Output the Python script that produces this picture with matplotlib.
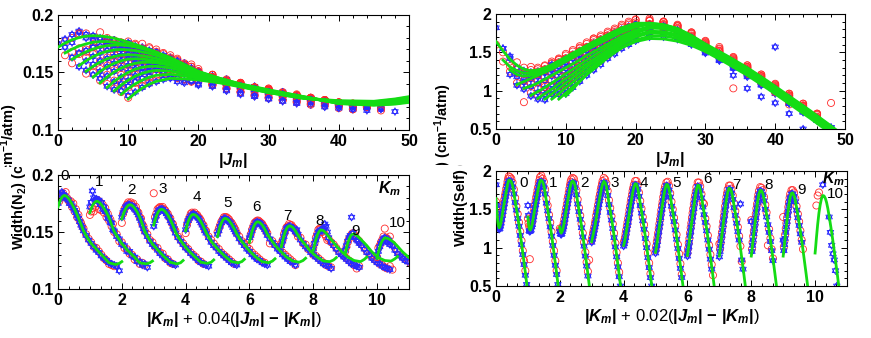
import numpy as np
import matplotlib.pyplot as plt
from matplotlib.path import Path
from matplotlib.ticker import MultipleLocator, FuncFormatter
from matplotlib.transforms import Bbox, TransformedBbox

plt.rcParams['font.family'] = 'Liberation Sans'
plt.rcParams['font.weight'] = 'bold'
plt.rcParams['mathtext.fontset'] = 'custom'
plt.rcParams['mathtext.rm'] = 'Liberation Sans:bold'
plt.rcParams['mathtext.it'] = 'Liberation Sans:italic:bold'
plt.rcParams['mathtext.bf'] = 'Liberation Sans:bold'

nan = float('nan')
k_values = [0, 1, 2, 3, 4, 5, 6, 7, 8, 9, 10]

# J grids (each K uses the part with J >= K)
n2_fit_j = [0, 1, 2, 3, 4, 5, 6, 7, 8, 9, 10, 11, 12, 13, 14, 16, 18, 20, 23, 26, 30, 35, 40, 45, 48, 50]
self_fit_j = [0, 1, 2, 3, 4, 5, 6, 7, 8, 9, 10, 11, 12, 13, 14, 16, 18, 20, 22, 24, 26, 28, 30, 33, 36, 39, 42, 45, 48, 50]
scatter_j = [0, 1, 2, 3, 4, 5, 6, 7, 8, 9, 10, 11, 12, 13, 14, 15, 16, 17, 18, 19, 20,
             22, 24, 26, 28, 30, 32, 34, 36, 38, 40, 42, 44, 46, 48]

# N2 broadening: fitted curves (one row per K)
n2_fit = [
    [.172, .1756, .1784, .1804, .1816, .182, .1817, .181, .1798, .1782, .1764, .1744, .1723, .170, .1677,
     .1625, .1568, .151, .145, .140, .135, .129, .123, .1215, .1225, .124],
    [.167, .1703, .173, .1749, .1763, .1769, .1769, .1763, .1753, .174, .1725, .1708, .169, .167,
     .1625, .1565, .1505, .145, .140, .1345, .129, .123, .122, .123, .1245],
    [.1615, .165, .168, .1704, .1722, .1733, .1739, .1739, .1733, .1723, .171, .1694, .1676,
     .163, .157, .1505, .1445, .1395, .1345, .1285, .1235, .122, .123, .125],
    [.156, .1603, .1638, .1665, .1684, .1696, .170, .1697, .169, .1679, .1665, .1649,
     .161, .156, .150, .144, .1395, .134, .1285, .1235, .1225, .1235, .1255],
    [.151, .1554, .1591, .1619, .1639, .1651, .1655, .1652, .1645, .1635, .1622,
     .159, .1545, .1495, .1435, .139, .134, .1285, .124, .123, .124, .126],
    [.146, .1509, .1549, .158, .1602, .1616, .162, .1617, .161, .160,
     .157, .153, .1485, .143, .139, .1335, .128, .124, .123, .1245, .1265],
    [.141, .1461, .1504, .1538, .1563, .158, .1589, .1589, .1584,
     .1562, .1525, .148, .143, .1385, .1335, .128, .1245, .1235, .125, .127],
    [.137, .1423, .1466, .1501, .1528, .1545, .1554, .1554,
     .154, .151, .147, .1425, .1385, .133, .128, .1245, .124, .1255, .1275],
    [.134, .1391, .1434, .1468, .1493, .151, .1519,
     .1512, .149, .146, .142, .138, .133, .128, .125, .124, .126, .128],
    [.131, .136, .1401, .1434, .1459, .1476,
     .1484, .147, .145, .1415, .138, .1325, .1275, .125, .1245, .1265, .1285],
    [.127, .1321, .1364, .1398, .1423,
     .1449, .1445, .1435, .141, .1375, .1325, .1275, .1255, .125, .127, .129],
]

# N2 broadening: measured widths, red circles and blue stars (one row per K)
n2_red = [
    [nan, .177, .180, .183, .184, .181, .185, .180, .178, .176, .177, .172, .175, .168, .170, .163, .165, .160, .158, .155, .153,
     .148, .144, .141, .137, .136, .133, .130, .127, .125, .122, .121, .120],
    [.165, .168, .171, .168, .172, .175, .178, .170, .176, .169, .174, .167, .171, .163, .166, .160, .161, .155, .157, .150,
     .148, .142, .141, .136, .135, .131, .130, .126, .126, .122, .123, .121],
    [.158, .166, .170, .172, .174, .176, .175, .176, .174, .175, .171, .172, .168, .167, .163, .162, .157, .155, .151,
     .148, .143, .141, .137, .136, .132, .131, .127, .126, .123, .122],
    [.184, .163, .166, .170, .171, .172, .171, .172, .170, .169, .167, .166, .163, .162, .158, .157, .153, .151,
     .146, .143, .140, .137, .135, .132, .130, .128, .125, .124, .122],
    [.149, .156, .160, .163, .166, .167, .166, .167, .165, .165, .163, .162, .160, .157, .156, .152, .151,
     .146, .143, .140, .137, .135, .132, .130, .128, .126, .124, .122],
    [.150, .153, .156, .159, .161, .163, .163, .163, .162, .161, .159, .158, .156, .154, .152, .149,
     .146, .142, .140, .137, .135, .132, .130, .128, .126, .124, .123],
    [.143, .148, .152, .155, .158, .159, .160, .160, .159, .158, .157, .155, .153, .151, .149,
     .140, .142, .139, .137, .134, .132, .130, .128, .126, .124, .121],
    [.140, .143, .148, .151, .154, .155, .157, .156, .156, .154, .153, .151, .149, .146,
     .145, .140, .139, .135, .134, .130, .129, .127, .125, .123, .121, .120, .119],
    [.136, .140, .145, .148, .152, .153, .153, .150, .152, .148, .146, .143, .144,
     .141, .139, .136, .133, .131, .129, .127, .125, .123, .121, .118, .120],
    [.133, .137, .141, .144, .146, .148, .149, .148, .146, .144, .143, .142,
     .139, .136, .133, .130, .128, .126, .124, .122, .121, .119, .118, .120, .117],
    [.128, .136, .138, .141, .143, .146, .153, .145, .144, .142, .146,
     .139, .136, .133, .130, .128, .126, .125, .123],
]
n2_blue = [
    [.175, .179, .183, .185, .183, .182, .180, .179, .178, .175, .175, .173, .171, .169, .167, .164, .162, .159, .156, .154, .151,
     .147, .143, .140, .137, .134, .132, .129, .127, .125, .123, .122, .121, .120, .116],
    [.172, .176, .186, .180, .178, .179, .177, .178, .174, .176, .170, .172, .168, .168, .162, .163, .158, .158, .152, .151,
     .146, .144, .139, .138, .133, .133, .129, .128, .124, .124, .121, .122, .119],
    [.163, .167, .169, .172, .173, .174, .174, .173, .173, .172, .170, .169, .167, .165, .162, .160, .156, .153, .150,
     .146, .142, .139, .137, .134, .131, .129, .127, .125, .123, .122, .121],
    [.155, .160, .164, .167, .169, .170, .170, .170, .168, .168, .166, .164, .163, .160, .158, .155, .153, .149,
     .145, .142, .139, .136, .134, .131, .129, .127, .125, .123, .122, .121, .120],
    [.152, .157, .160, .162, .164, .165, .166, .165, .164, .163, .162, .160, .158, .156, .154, .151, .149,
     .145, .141, .138, .136, .133, .131, .129, .127, .125, .123, .122, .121],
    [.148, .151, .155, .158, .160, .162, .162, .161, .160, .159, .158, .156, .154, .152, .150, .148,
     .144, .141, .138, .135, .133, .130, .128, .126, .125, .123, .122, .121],
    [.145, .147, .151, .154, .156, .158, .159, .158, .158, .157, .155, .154, .152, .150, .147,
     .144, .141, .138, .135, .133, .130, .128, .126, .124, .123, .121],
    [.138, .142, .146, .150, .153, .154, .155, .155, .154, .153, .152, .150, .152, .148,
     .143, .140, .137, .135, .132, .130, .128, .126, .124, .122, .121, .120, .118],
    [.135, .140, .143, .147, .150, .151, .152, .151, .153, .157, .155, .150, .145,
     .141, .138, .135, .132, .130, .128, .126, .124, .122, .121, .120, .119],
    [.134, .138, .142, .145, .147, .163, .149, .146, .145, .143, .142, .140,
     .138, .135, .132, .130, .127, .125, .123, .122, .120, .119, .118, .117],
    [.130, .133, .137, .140, .142, .144, .145, .142, .141, .143, .139,
     .138, .134, .131, .129, .127, .125, .124],
]

# Self broadening: fitted curves (one row per K)
self_fit = [
    [1.64, 1.52, 1.41, 1.33, 1.28, 1.26, 1.27, 1.30, 1.34, 1.39, 1.44, 1.49, 1.54, 1.59, 1.64,
     1.73, 1.82, 1.88, 1.88, 1.86, 1.81, 1.72, 1.61, 1.46, 1.30, 1.12, 0.93, 0.74, 0.54, 0.40],
    [1.40, 1.31, 1.26, 1.23, 1.23, 1.25, 1.28, 1.32, 1.37, 1.42, 1.47, 1.52, 1.57, 1.62,
     1.71, 1.80, 1.87, 1.88, 1.86, 1.81, 1.715, 1.60, 1.45, 1.29, 1.11, 0.92, 0.73, 0.53, 0.39],
    [1.27, 1.21, 1.19, 1.20, 1.22, 1.25, 1.29, 1.34, 1.39, 1.44, 1.49, 1.54, 1.59,
     1.69, 1.78, 1.85, 1.87, 1.855, 1.805, 1.71, 1.59, 1.44, 1.28, 1.10, 0.91, 0.72, 0.52, 0.38],
    [1.08, 1.12, 1.16, 1.20, 1.24, 1.28, 1.33, 1.38, 1.43, 1.48, 1.53, 1.58,
     1.67, 1.76, 1.83, 1.865, 1.85, 1.80, 1.70, 1.585, 1.435, 1.275, 1.095, 0.905, 0.715, 0.515, 0.375],
    [1.03, 1.06, 1.10, 1.15, 1.20, 1.25, 1.30, 1.35, 1.40, 1.46, 1.51,
     1.61, 1.71, 1.79, 1.835, 1.83, 1.78, 1.69, 1.575, 1.425, 1.265, 1.085, 0.895, 0.705, 0.505, 0.365],
    [0.94, 0.99, 1.04, 1.10, 1.16, 1.22, 1.28, 1.34, 1.40, 1.46,
     1.57, 1.68, 1.77, 1.825, 1.82, 1.77, 1.685, 1.57, 1.42, 1.26, 1.08, 0.89, 0.70, 0.50, 0.36],
    [0.90, 0.96, 1.02, 1.09, 1.16, 1.22, 1.29, 1.35, 1.41,
     1.53, 1.65, 1.75, 1.815, 1.81, 1.76, 1.675, 1.56, 1.41, 1.25, 1.07, 0.88, 0.69, 0.49, 0.35],
    [0.89, 0.96, 1.03, 1.10, 1.17, 1.24, 1.31, 1.37,
     1.50, 1.62, 1.72, 1.775, 1.77, 1.73, 1.655, 1.55, 1.40, 1.24, 1.06, 0.87, 0.68, 0.48, 0.34],
    [0.89, 0.96, 1.04, 1.11, 1.19, 1.26, 1.33,
     1.47, 1.60, 1.70, 1.75, 1.745, 1.71, 1.635, 1.535, 1.385, 1.225, 1.045, 0.855, 0.665, 0.465, 0.325],
    [0.89, 0.97, 1.05, 1.13, 1.21, 1.28,
     1.43, 1.56, 1.66, 1.71, 1.715, 1.68, 1.615, 1.525, 1.375, 1.215, 1.035, 0.845, 0.655, 0.455, 0.315],
    [0.93, 1.02, 1.12, 1.21, 1.30,
     1.45, 1.56, 1.64, 1.68, 1.675, 1.645, 1.59, 1.51, 1.36, 1.20, 1.02, 0.83, 0.64, 0.44, 0.30],
]

# Self broadening: measured widths (one row per K)
self_red = [
    [1.60, 1.50, 1.38, 1.37, 1.30, 1.31, 1.30, 1.33, 1.38, 1.42, 1.48, 1.53, 1.58, 1.63, 1.68, 1.72, 1.77, 1.81, 1.86, 1.90, 1.93,
     1.92, 1.90, 1.85, 1.76, 1.65, 1.54, 1.44, 1.33, 1.21, 1.09, 0.96, 0.83, 0.70],
    [1.38, 1.32, 1.28, 0.85, 1.27, 1.28, 1.32, 1.35, 1.41, 1.46, 1.51, 1.56, 1.61, 1.66, 1.70, 1.75, 1.79, 1.84, 1.88, 1.92,
     1.94, 1.90, 1.86, 1.76, 1.64, 1.55, 1.43, 1.33, 1.21, 1.08, 0.96, 0.83, 0.70],
    [1.25, 1.23, 1.22, 1.23, 1.25, 1.28, 1.32, 1.37, 1.42, 1.47, 1.52, 1.57, 1.63, 1.67, 1.72, 1.77, 1.82, 1.86, 1.89,
     1.91, 1.90, 1.84, 1.75, 1.63, 1.52, 1.42, 1.31, 1.19, 1.07, 0.94, 0.81, 0.69, 0.84],
    [1.10, 1.14, 1.19, 1.23, 1.27, 1.32, 1.36, 1.42, 1.46, 1.51, 1.56, 1.61, 1.66, 1.70, 1.75, 1.79, 1.83, 1.87,
     1.91, 1.89, 1.84, 1.74, 1.62, 1.52, 1.41, 1.31, 1.19, 1.06, 0.94, 0.80, 0.68],
    [1.06, 1.09, 1.13, 1.18, 1.23, 1.28, 1.33, 1.38, 1.43, 1.49, 1.54, 1.59, 1.64, 1.69, 1.74, 1.78, 1.82,
     1.87, 1.87, 1.82, 1.72, 1.61, 1.51, 1.40, 1.30, 1.18, 1.05, 0.93, 0.80, 0.66],
    [0.97, 1.02, 1.08, 1.13, 1.19, 1.25, 1.31, 1.37, 1.43, 1.49, 1.55, 1.60, 1.66, 1.71, 1.76, 1.80,
     1.85, 1.86, 1.81, 1.71, 1.60, 1.50, 1.39, 1.29, 1.17, 1.04, 0.92, 0.79, 0.65],
    [0.93, 0.99, 1.06, 1.12, 1.19, 1.26, 1.32, 1.39, 1.45, 1.51, 1.57, 1.63, 1.68, 1.73, 1.79,
     1.85, 1.85, 1.80, 1.70, 1.59, 1.57, 1.38, 1.28, 1.16, 1.03, 0.91, 0.78, 0.64],
    [1.05, 0.98, 1.06, 1.13, 1.20, 1.27, 1.34, 1.41, 1.47, 1.54, 1.60, 1.66, 1.71, 1.76,
     1.81, 1.81, 1.77, 1.68, 1.58, 1.48, 1.37, 1.27, 1.15, 1.02, 0.82],
    [1.36, 0.98, 1.07, 1.15, 1.22, 1.30, 1.37, 1.44, 1.51, 1.57, 1.64, 1.69, 1.74,
     1.79, 1.78, 1.75, 1.66, 1.56, 1.46, 1.03, 1.24, 1.12, 0.98, 0.86],
    [1.40, 1.01, 1.09, 1.17, 1.25, 1.32, 1.39, 1.46, 1.53, 1.59, 1.65, 1.70,
     1.75, 1.75, 1.72, 1.64, 1.54, 1.44, 1.34, 1.22, 1.10, 0.98],
    [nan, nan, 1.55, nan, 1.68, nan, 1.72, nan, nan, nan, nan],
]
self_blue = [
    [1.82, 1.55, 1.45, 1.30, 1.26, 1.24, 1.25, 1.28, 1.32, 1.37, 1.42, 1.47, 1.52, 1.57, 1.62, 1.67, 1.71, 1.76, 1.80, 1.84, 1.87,
     1.87, 1.84, 1.79, 1.70, 1.59, 1.49, 1.38, 1.28, 1.16, 1.04, 0.91, 0.78, 0.64, 0.52],
    [1.55, 1.42, 1.22, 1.21, 1.22, 1.23, 1.27, 1.30, 1.36, 1.40, 1.46, 1.50, 1.56, 1.60, 1.65, 1.69, 1.74, 1.79, 1.82, 1.86,
     1.86, 1.85, 1.79, 1.70, 1.58, 1.48, 1.38, 1.27, 1.15, 1.03, 0.90, 0.77, 0.65, 0.52],
    [1.21, 1.18, 1.17, 1.18, 1.21, 1.24, 1.27, 1.32, 1.37, 1.42, 1.47, 1.52, 1.57, 1.62, 1.67, 1.71, 1.76, 1.80, 1.83,
     1.85, 1.84, 1.78, 1.69, 1.57, 1.47, 1.37, 1.26, 1.14, 1.02, 0.89, 0.76, 0.63],
    [1.07, 1.11, 1.15, 1.18, 1.23, 1.27, 1.31, 1.36, 1.42, 1.46, 1.52, 1.56, 1.61, 1.65, 1.70, 1.74, 1.78, 1.82,
     1.85, 1.83, 1.78, 1.68, 1.56, 1.46, 1.36, 1.25, 1.13, 1.01, 0.88, 0.75, 0.62, 0.50],
    [1.02, 1.05, 1.09, 1.13, 1.19, 1.24, 1.29, 1.33, 1.39, 1.44, 1.50, 1.54, 1.60, 1.64, 1.69, 1.74, 1.77,
     1.82, 1.81, 1.76, 1.67, 1.55, 1.45, 1.35, 1.24, 1.12, 1.00, 0.87, 0.74, 0.61, 0.50],
    [0.93, 0.98, 1.03, 1.08, 1.15, 1.21, 1.27, 1.32, 1.39, 1.45, 1.50, 1.55, 1.61, 1.66, 1.71, 1.75,
     1.81, 1.80, 1.75, 1.66, 1.54, 1.44, 1.34, 1.23, 1.11, 0.99, 0.86, 0.73, 0.61],
    [0.89, 0.95, 1.01, 1.07, 1.15, 1.21, 1.27, 1.34, 1.40, 1.46, 1.51, 1.58, 1.63, 1.69, 1.73,
     1.80, 1.79, 1.74, 1.65, 1.53, 1.43, 1.33, 1.22, 1.10, 0.98, 0.85, 0.72],
    [0.88, 0.95, 1.02, 1.09, 1.16, 1.23, 1.30, 1.36, 1.42, 1.49, 1.55, 1.61, 1.66, 1.70,
     1.76, 1.76, 1.71, 1.63, 1.52, 1.42, 1.32, 1.21, 1.10, 1.57, 0.84, 0.72],
    [1.34, 0.95, 1.03, 1.10, 1.18, 1.25, 1.32, 1.39, 1.46, 1.52, 1.59, 1.64, 1.69,
     1.74, 1.73, 1.69, 1.61, 1.50, 1.40, 1.30, 1.20, 1.08, 0.96, 0.83],
    [1.10, 0.96, 1.04, 1.12, 1.20, 1.27, 1.34, 1.42, 1.48, 1.55, 1.60, 1.65,
     1.70, 1.70, 1.67, 1.60, 1.49, 1.39, 1.29, 1.18, 1.07],
    [nan, nan, nan, nan, nan, nan, nan, nan, nan, nan, nan,
     1.82, nan, nan, nan, nan, 1.40, 1.20, 1.03, 0.92, 0.84, 0.70, 0.50],
]

n2_label = r'Width(N$_2$) (cm$^{-1}$/atm)'
self_label = r'Width(Self) (cm$^{-1}$/atm)'

# hexagram marker (two triangles)
a1 = np.deg2rad([90, 210, 330, 90])
a2 = np.deg2rad([270, 30, 150, 270])
star_verts = list(zip(np.cos(a1), np.sin(a1))) + list(zip(np.cos(a2), np.sin(a2)))
star_codes = [Path.MOVETO, Path.LINETO, Path.LINETO, Path.CLOSEPOLY] * 2
hexagram = Path(star_verts, star_codes)

green = '#14dc14'


def pick(grid, k, vals):
    jj = [j for j in grid if j >= k]
    n = min(len(jj), len(vals))
    return np.array(jj[:n], float), np.array(vals[:n], float)


def draw(ax, fit_j, fit, red, blue, slope=None):
    for k in k_values:
        for vals, col, mk, s in ((red[k], '#ff2a2a', 'o', 26), (blue[k], '#2a2aff', hexagram, 30)):
            j, w = pick(scatter_j, k, vals)
            x = j if slope is None else k + slope * (j - k)
            ax.scatter(x, w, s=s, marker=mk, facecolors='none', edgecolors=col,
                       linewidths=0.6, zorder=2)
    for k in k_values:
        j, w = pick(fit_j, k, fit[k])
        x = j if slope is None else k + slope * (j - k)
        ax.plot(x, w, color=green, lw=2.0, zorder=3)


def style(ax, xmaj, xmin, ymaj, ymin):
    ax.xaxis.set_major_locator(MultipleLocator(xmaj))
    ax.xaxis.set_minor_locator(MultipleLocator(xmin))
    ax.yaxis.set_major_locator(MultipleLocator(ymaj))
    ax.yaxis.set_minor_locator(MultipleLocator(ymin))
    fmt = FuncFormatter(lambda v, p: '%g' % round(v, 3))
    ax.xaxis.set_major_formatter(fmt)
    ax.yaxis.set_major_formatter(fmt)
    ax.tick_params(which='both', direction='in', top=True, right=True, width=0.7,
                   labelsize=11.5, pad=3)
    ax.tick_params(which='major', length=4)
    ax.tick_params(which='minor', length=2)
    for sp in ax.spines.values():
        sp.set_linewidth(0.8)


W, H = 871, 338
fig = plt.figure(figsize=(W / 100, H / 100), dpi=100)

ax_tl = fig.add_axes([58 / W, 1 - 130 / H, 351 / W, 115 / H])
ax_bl = fig.add_axes([58 / W, 1 - 289 / H, 351 / W, 114 / H])
ax_tr = fig.add_axes([496 / W, 1 - 129 / H, 349 / W, 115 / H])
ax_br = fig.add_axes([496 / W, 1 - 286 / H, 351 / W, 115 / H])

draw(ax_tl, n2_fit_j, n2_fit, n2_red, n2_blue)
draw(ax_bl, n2_fit_j, n2_fit, n2_red, n2_blue, slope=0.04)
draw(ax_tr, self_fit_j, self_fit, self_red, self_blue)
draw(ax_br, self_fit_j, self_fit, self_red, self_blue, slope=0.02)

ax_tl.set_xlim(0, 50)
ax_tl.set_ylim(0.1, 0.2)
ax_bl.set_xlim(0, 11)
ax_bl.set_ylim(0.1, 0.2)
ax_tr.set_xlim(0, 50)
ax_tr.set_ylim(0.5, 2)
ax_br.set_xlim(0, 11)
ax_br.set_ylim(0.5, 2)

style(ax_tl, 10, 2, 0.05, 0.01)
style(ax_bl, 2, 1 / 3, 0.05, 0.01)
style(ax_tr, 10, 2, 0.5, 0.1)
style(ax_br, 2, 1 / 3, 0.5, 0.1)

ax_tl.set_xlabel(r'$|J_m|$', fontsize=12, labelpad=1)
ax_tr.set_xlabel(r'$|J_m|$', fontsize=12, labelpad=1)
ax_bl.set_xlabel(r'$|K_m|$ + 0.04($|J_m|$ $-$ $|K_m|$)', fontsize=12, labelpad=1)
ax_br.set_xlabel(r'$|K_m|$ + 0.02($|J_m|$ $-$ $|K_m|$)', fontsize=12, labelpad=1)

# K labels in the lower panels
n2_kx = [0.22, 1.29, 2.29, 3.28, 4.35, 5.32, 6.21, 7.19, 8.19, 9.33, 10.65]
n2_ky = [0.199, 0.194, 0.187, 0.1875, 0.181, 0.1757, 0.172, 0.164, 0.160, 0.151, 0.1576]
self_kx = [0.86, 1.80, 2.76, 3.73, 4.64, 5.66, 6.64, 7.55, 8.54, 9.56, 10.63]
self_ky = [1.84, 1.84, 1.84, 1.84, 1.84, 1.84, 1.90, 1.82, 1.82, 1.75, 1.70]
for k in k_values:
    ax_bl.text(n2_kx[k], n2_ky[k], str(k), fontsize=11, fontweight='normal',
               ha='center', va='center', zorder=5)
    ax_br.text(self_kx[k], self_ky[k], str(k), fontsize=11, fontweight='normal',
               ha='center', va='center', zorder=5)
ax_bl.text(10.4, 0.188, r'$K_m$', fontsize=11.5, ha='center', va='center', zorder=5)
ax_br.text(10.57, 1.90, r'$K_m$', fontsize=11.5, ha='center', va='center', zorder=5)


# y labels: the upper and lower halves come from two overlapping copies
def ylabel_piece(x_px, y_px, va, text, upper, cut_px):
    t = fig.text(x_px / W, 1 - y_px / H, text, rotation=90, ha='center', va=va,
                 fontsize=10.5, fontweight='bold')
    cut = 1 - cut_px / H
    box = Bbox.from_extents(0, cut, 1, 1) if upper else Bbox.from_extents(0, 0, 1, cut)
    t.set_clip_box(TransformedBbox(box, fig.transFigure))
    t.set_clip_on(True)


ylabel_piece(9, 103, 'top', n2_label, True, 167)
ylabel_piece(19, 250, 'bottom', n2_label, False, 167)
ylabel_piece(443, 83, 'top', self_label, True, 165)
ylabel_piece(461, 247, 'bottom', self_label, False, 165)

fig.savefig('out.png', dpi=100)
